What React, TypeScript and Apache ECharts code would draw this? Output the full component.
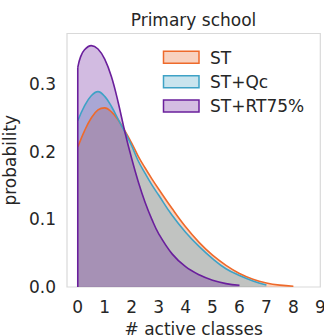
import React, { useEffect, useRef } from "react";
import * as echarts from "echarts";

const seriesNames = ["ST", "ST+Qc", "ST+RT75%"];
const lineColors = ["#ee6a2b", "#3ea2c6", "#6a1f9c"];
const fillColors = ["#f8d2c0", "#c9e4ee", "#d4bde2"];

const stData: [number, number][] = [
  [0, 0.207], [0.25, 0.231], [0.5, 0.25], [0.75, 0.262], [1.0, 0.265], [1.25, 0.259],
  [1.5, 0.247], [1.75, 0.231], [2.0, 0.213], [2.25, 0.193], [2.5, 0.176], [2.75, 0.16],
  [3.0, 0.145], [3.5, 0.116], [4.0, 0.089], [4.5, 0.066], [5.0, 0.047], [5.5, 0.032],
  [6.0, 0.02], [6.5, 0.0115], [7.0, 0.006], [7.5, 0.0028], [8.0, 0.0012],
];
const qcData: [number, number][] = [
  [0, 0.246], [0.25, 0.268], [0.5, 0.283], [0.75, 0.289], [1.0, 0.282], [1.25, 0.267],
  [1.5, 0.248], [1.75, 0.229], [2.0, 0.209], [2.25, 0.186], [2.5, 0.168], [2.75, 0.151],
  [3.0, 0.136], [3.5, 0.106], [4.0, 0.081], [4.5, 0.06], [5.0, 0.042], [5.5, 0.027],
  [6.0, 0.017], [6.5, 0.009], [7.0, 0.003],
];
const rtData: [number, number][] = [
  [0, 0.325], [0.1, 0.34], [0.25, 0.351], [0.5, 0.357], [0.75, 0.352], [1.0, 0.337],
  [1.25, 0.311], [1.5, 0.273], [1.75, 0.229], [2.0, 0.19], [2.25, 0.155], [2.5, 0.125],
  [2.75, 0.1], [3.0, 0.079], [3.5, 0.049], [4.0, 0.03], [4.5, 0.018], [5.0, 0.01],
  [5.5, 0.005], [6.0, 0.0025],
];
const rtEdge: [number, number][] = [[0, 0], [0, 0.325]];

const xTicks = [0, 1, 2, 3, 4, 5, 6, 7, 8, 9];
const yTicks = [0, 0.1, 0.2, 0.3];

const FONT = "DejaVu Sans";
const FS = 17;
const TEXT = "#262626";

export default function App() {
  const ref = useRef<HTMLDivElement>(null);
  useEffect(() => {
    if (!ref.current) return;
    const chart = echarts.init(ref.current, undefined, { renderer: "svg" });
    const datasets = [stData, qcData, rtData];
    const series: any[] = datasets.map((d, i) => ({
      name: seriesNames[i],
      type: "line",
      data: d,
      smooth: 0.4,
      showSymbol: false,
      symbol: "none",
      lineStyle: { color: lineColors[i], width: 1.6 },
      itemStyle: { color: lineColors[i] },
      areaStyle: { color: lineColors[i], opacity: 0.3 },
    }));
    series.push({
      name: "edge",
      type: "line",
      data: rtEdge,
      showSymbol: false,
      symbol: "none",
      lineStyle: { color: lineColors[2], width: 1.6 },
      z: 5,
    });

    const legendGraphics: any[] = [];
    const rowY = [57.3, 81.7, 106];
    seriesNames.forEach((n, i) => {
      legendGraphics.push({
        type: "rect",
        shape: { x: 163.5, y: rowY[i] - 6, width: 35.5, height: 12 },
        style: { fill: fillColors[i], stroke: lineColors[i], lineWidth: 1.5 },
      });
      legendGraphics.push({
        type: "text",
        x: 210,
        y: rowY[i] + 0.3,
        style: {
          text: n,
          font: `${FS}px "${FONT}"`,
          fill: TEXT,
          textAlign: "left",
          textVerticalAlign: "middle",
        },
      });
    });

    chart.setOption({
      animation: false,
      backgroundColor: "#ffffff",
      textStyle: { fontFamily: FONT },
      grid: {
        left: 67,
        right: 3.7,
        top: 33.5,
        bottom: 49,
        show: true,
        borderColor: "#d9d9d9",
        borderWidth: 1.2,
        backgroundColor: "#ffffff",
        containLabel: false,
        outerBoundsMode: "none",
      },
      graphic: [
        {
          type: "text",
          x: 193.5,
          y: 19.5,
          style: {
            text: "Primary school",
            font: `${FS}px "${FONT}"`,
            fill: TEXT,
            textAlign: "center",
            textVerticalAlign: "middle",
          },
        },
        ...legendGraphics,
      ],
      xAxis: {
        type: "value",
        min: -0.4,
        max: 9,
        name: "# active classes",
        nameLocation: "middle",
        nameGap: 34.5,
        nameTextStyle: { fontFamily: FONT, fontSize: FS, color: TEXT, lineHeight: 14 },
        axisLine: { show: false },
        axisTick: { show: false },
        splitLine: { show: false },
        axisLabel: {
          customValues: xTicks,
          fontFamily: FONT,
          fontSize: FS,
          color: TEXT,
          margin: 11,
          formatter: (v: number) => String(v),
        },
      },
      yAxis: {
        type: "value",
        min: 0,
        max: 0.375,
        name: "probability",
        nameLocation: "middle",
        nameGap: 43.5,
        nameTextStyle: { fontFamily: FONT, fontSize: FS, color: TEXT },
        axisLine: { show: false },
        axisTick: { show: false },
        splitLine: { show: false },
        axisLabel: {
          customValues: yTicks,
          fontFamily: FONT,
          fontSize: FS,
          color: TEXT,
          margin: 11,
          formatter: (v: number) => v.toFixed(1),
        },
      },
      series,
    });
    return () => chart.dispose();
  }, []);
  return (
    <div
      ref={ref}
      style={{ position: "fixed", left: 0, top: 0, width: 324, height: 336 }}
    />
  );
}
